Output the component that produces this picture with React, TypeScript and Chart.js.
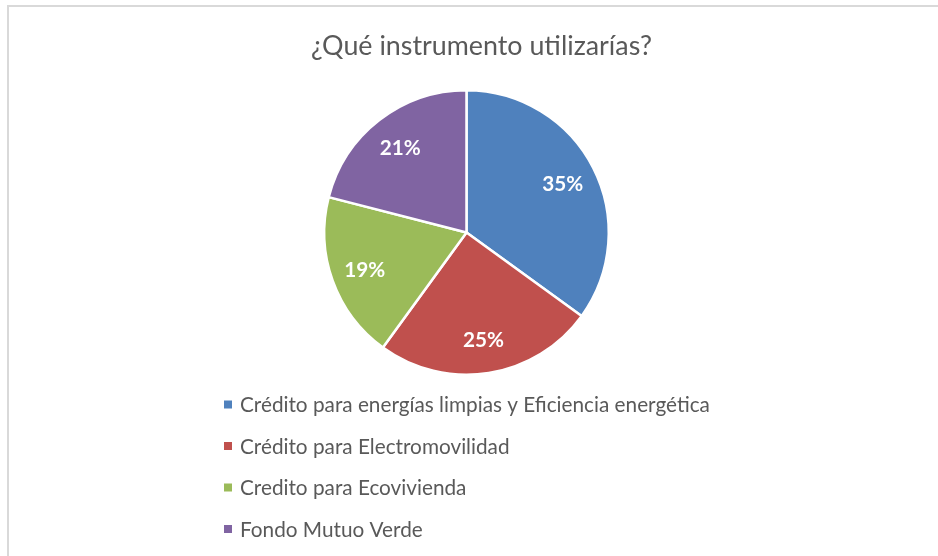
import React, { useEffect, useRef } from "react";
import { Chart, registerables } from "chart.js";

Chart.register(...registerables);

const titleText = "¿Qué instrumento utilizarías?";
const categories = [
  "Crédito para energías limpias y Eficiencia energética",
  "Crédito para Electromovilidad",
  "Credito para Ecovivienda",
  "Fondo Mutuo Verde",
];
const shares = [35, 25, 19, 21];
const colors = ["#4F81BD", "#C0504D", "#9BBB59", "#8064A2"];

const FONT = "Lato, 'Open Sans', sans-serif";

function fitSize(ctx: CanvasRenderingContext2D, text: string, target: number, weight: string) {
  ctx.font = `${weight} 20px ${FONT}`;
  const w = ctx.measureText(text).width;
  return (20 * target) / w;
}

const overlayPlugin = {
  id: "overlay",
  afterDatasetsDraw(chart: any) {
    const ctx = chart.ctx as CanvasRenderingContext2D;
    const meta = chart.getDatasetMeta(0);
    ctx.save();
    // slice labels
    const labSize = fitSize(ctx, "35%", 41, "bold");
    ctx.fillStyle = "#FFFFFF";
    ctx.font = `bold ${labSize}px ${FONT}`;
    ctx.textAlign = "center";
    ctx.textBaseline = "middle";
    meta.data.forEach((arc: any, i: number) => {
      const p = arc.getProps(["x", "y", "startAngle", "endAngle", "outerRadius"], true);
      const mid = (p.startAngle + p.endAngle) / 2;
      const r = p.outerRadius * 0.76;
      ctx.fillText(`${shares[i]}%`, p.x + Math.cos(mid) * r, p.y + Math.sin(mid) * r + 1);
    });
    // title
    const tSize = fitSize(ctx, titleText, 341, "normal");
    ctx.fillStyle = "#595959";
    ctx.font = `normal ${tSize}px ${FONT}`;
    ctx.textAlign = "center";
    ctx.textBaseline = "alphabetic";
    ctx.fillText(titleText, 481.5, 55);
    // legend
    const labels = chart.data.labels as string[];
    const lSize = fitSize(ctx, labels[0], 470, "normal");
    ctx.font = `normal ${lSize}px ${FONT}`;
    ctx.textAlign = "left";
    ctx.textBaseline = "middle";
    const bg = chart.data.datasets[0].backgroundColor as string[];
    labels.forEach((lab, i) => {
      const cy = 404.5 + i * 41.5;
      ctx.fillStyle = bg[i];
      ctx.fillRect(224, cy - 4, 8, 8);
      ctx.fillStyle = "#595959";
      ctx.fillText(lab, 240, cy + 1);
    });
    ctx.restore();
  },
};

export default function App() {
  const ref = useRef<HTMLCanvasElement | null>(null);
  useEffect(() => {
    if (!ref.current) return;
    const chart = new Chart(ref.current, {
      type: "pie",
      data: {
        labels: categories,
        datasets: [
          {
            data: shares,
            backgroundColor: colors,
            borderColor: "#FFFFFF",
            borderWidth: 2.5,
          },
        ],
      },
      options: {
        responsive: false,
        animation: false,
        layout: { padding: { top: 89, bottom: 180, left: 323, right: 328 } },
        plugins: {
          legend: { display: false },
          title: { display: false },
          tooltip: { enabled: false },
        },
      },
      plugins: [overlayPlugin],
    });
    return () => chart.destroy();
  }, []);
  return (
    <div style={{ position: "fixed", left: 0, top: 0, width: 938, height: 556, background: "#fff", overflow: "hidden" }}>
      <div
        style={{
          position: "absolute",
          left: 7,
          top: 5,
          width: 1000,
          height: 1000,
          border: "2px solid #D9D9D9",
          boxSizing: "border-box",
        }}
      />
      <canvas ref={ref} width={938} height={556} style={{ position: "absolute", left: 0, top: 0 }} />
    </div>
  );
}
